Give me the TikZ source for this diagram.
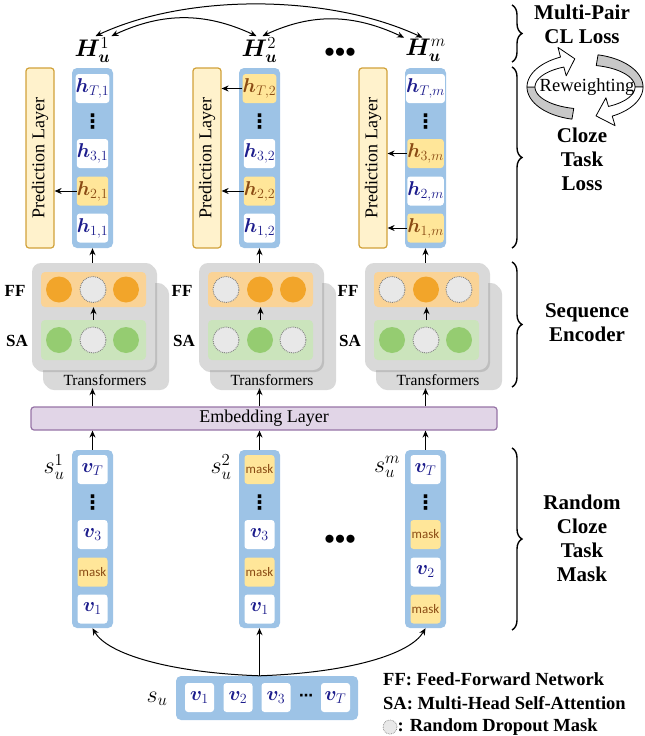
\RequirePackage{fix-cm}
\documentclass[tikz,border=0pt]{standalone}
\usepackage{bm}
\usepackage{fontspec}
\setmainfont{Liberation Serif}
\newfontfamily\masksf{Carlito}
\newfontfamily\dotsf{DejaVu Sans}
\usetikzlibrary{arrows.meta,shadows,decorations.pathreplacing}
\definecolor{colblue}{HTML}{9DC3E6}
\definecolor{cellyellow}{HTML}{FFE699}
\definecolor{cellblue}{HTML}{1C1C8C}
\definecolor{cellbrown}{HTML}{8A4B14}
\definecolor{predfill}{HTML}{FFF2CC}
\definecolor{predline}{HTML}{D1A23A}
\definecolor{tfgray}{HTML}{D9D9D9}
\definecolor{ffbandc}{HTML}{FAD396}
\definecolor{ffdotc}{HTML}{F2A52A}
\definecolor{sabandc}{HTML}{CBE4BC}
\definecolor{sadotc}{HTML}{95CC71}
\definecolor{dropc}{HTML}{E8E8E8}
\definecolor{embfill}{HTML}{E1D5E7}
\definecolor{embline}{HTML}{9673A6}
\definecolor{ringgray}{HTML}{C8C8C8}
\begin{document}
\begin{tikzpicture}[x=1pt,y=1pt,
  arr/.style={-{Stealth[length=7pt,width=6pt]},line width=1pt},
  darr/.style={{Stealth[length=7pt,width=6pt]}-{Stealth[length=7pt,width=6pt]},line width=1pt},
  predbox/.style={draw=predline,fill=predfill,line width=1.2pt,rounded corners=3pt,minimum width=28,minimum height=180,inner sep=0,font=\fontsize{18}{18}\selectfont},
  colbox/.style={fill=colblue,rounded corners=5pt,minimum width=41,inner sep=0},
  hcell/.style={fill=white,text=cellblue,rounded corners=3pt,minimum width=30,minimum height=29,inner sep=0,font=\fontsize{20}{20}\selectfont},
  ycell/.style={hcell,fill=cellyellow,text=cellbrown},
  mcell/.style={ycell,font=\masksf\fontsize{13}{13}\selectfont},
  vdot/.style={inner sep=0,font=\dotsf\bfseries\fontsize{20}{20}\selectfont},
  hlab/.style={inner sep=1pt,font=\fontsize{24}{24}\selectfont},
  tfbox/.style={fill=tfgray,rounded corners=9pt,inner sep=0,drop shadow={opacity=0.3,shadow xshift=2pt,shadow yshift=-2pt}},
  ffband/.style={fill=ffbandc,rounded corners=4pt,minimum width=105,minimum height=35,inner sep=0},
  saband/.style={fill=sabandc,rounded corners=4pt,minimum width=105,minimum height=40,inner sep=0},
  ffdot/.style={circle,fill=ffdotc,minimum size=26,inner sep=0},
  sadot/.style={circle,fill=sadotc,minimum size=26,inner sep=0},
  dropdot/.style={circle,fill=dropc,draw=gray,densely dotted,line width=0.9pt,minimum size=26,inner sep=0},
  sidelab/.style={font=\bfseries\fontsize{17}{17}\selectfont,inner sep=0},
  tflab/.style={font=\fontsize{15.5}{15.5}\selectfont,inner sep=0},
  embbox/.style={draw=embline,fill=embfill,line width=1.2pt,rounded corners=3pt,minimum width=466,minimum height=23,inner sep=0,font=\fontsize{18}{18}\selectfont},
  rightlab/.style={align=center,font=\bfseries\fontsize{21}{24}\selectfont},
  leglab/.style={anchor=west,inner sep=0,font=\bfseries\fontsize{18.5}{18.5}\selectfont},
  curly/.style={decorate,decoration={brace,amplitude=10pt},line width=1.4pt},
  ring/.style={draw=black,line width=0.8pt,line join=round}]
\useasboundingbox (0,0) rectangle (645,-736);
% output states with prediction layers
\node[predbox] (pred1) at (40,-158) {\rotatebox{90}{Prediction Layer}};
\node[predbox] (pred2) at (207,-158) {\rotatebox{90}{Prediction Layer}};
\node[predbox] (pred3) at (373,-158) {\rotatebox{90}{Prediction Layer}};
\node[colbox,minimum height=180] (hc1) at (92.5,-158) {};
\node[colbox,minimum height=180] (hc2) at (259.5,-158) {};
\node[colbox,minimum height=180] (hc3) at (425.5,-158) {};
\node[hcell] (hT1) at (92.5,-88.5) {$\bm{h}_{T,1}$}; \node[vdot] (hd1) at (92.5,-122) {⋮};
\node[hcell] (h31) at (92.5,-153.5) {$\bm{h}_{3,1}$}; \node[ycell] (h21) at (92.5,-191) {$\bm{h}_{2,1}$}; \node[hcell] (h11) at (92.5,-228) {$\bm{h}_{1,1}$};
\node[ycell] (hT2) at (259.5,-88.5) {$\bm{h}_{T,2}$}; \node[vdot] (hd2) at (259.5,-122) {⋮};
\node[hcell] (h32) at (259.5,-153.5) {$\bm{h}_{3,2}$}; \node[ycell] (h22) at (259.5,-191) {$\bm{h}_{2,2}$}; \node[hcell] (h12) at (259.5,-228) {$\bm{h}_{1,2}$};
\node[hcell] (hT3) at (425.5,-88.5) {$\bm{h}_{T,m}$}; \node[vdot] (hd3) at (425.5,-122) {⋮};
\node[ycell] (h33) at (425.5,-153.5) {$\bm{h}_{3,m}$}; \node[hcell] (h23) at (425.5,-191) {$\bm{h}_{2,m}$}; \node[ycell] (h13) at (425.5,-228) {$\bm{h}_{1,m}$};
\draw[arr] (h21.west) -- (h21.west -| pred1.east);
\draw[arr] (hT2.west) -- (hT2.west -| pred2.east); \draw[arr] (h22.west) -- (h22.west -| pred2.east);
\draw[arr] (h33.west) -- (h33.west -| pred3.east); \draw[arr] (h13.west) -- (h13.west -| pred3.east);
\node[hlab] (H1) at (92.5,-50) {$\bm{H}_{\bm{u}}^{1}$};
\node[hlab] (H2) at (259.5,-50) {$\bm{H}_{\bm{u}}^{2}$};
\node[hlab] (Hm) at (425.5,-50) {$\bm{H}_{\bm{u}}^{m}$};
\node[hlab,font=\fontsize{21}{21}\selectfont] (hdots) at (340,-53) {${\bullet}{\bullet}{\bullet}$};
\draw[darr] ([xshift=3pt]H1.north) to[out=25,in=155,looseness=0.8] ([xshift=-3pt]Hm.north);
\draw[darr] (H1.north east) to[out=25,in=155] ([xshift=-3pt]H2.north);
\draw[darr] ([xshift=3pt]H2.north) to[out=25,in=155] (Hm.north west);
% transformers
\node[tfbox,minimum width=124,minimum height=105] (tb1) at (105,-335.5) {};
\node[tfbox,minimum width=124,minimum height=105] (tb2) at (272,-335.5) {};
\node[tfbox,minimum width=124,minimum height=105] (tb3) at (438,-335.5) {};
\node[tfbox,minimum width=123,minimum height=107] (tf1) at (93.5,-316.5) {};
\node[tfbox,minimum width=123,minimum height=107] (tf2) at (260.5,-316.5) {};
\node[tfbox,minimum width=123,minimum height=107] (tf3) at (426.5,-316.5) {};
\node[tflab] (tl1) at (105,-380) {Transformers}; \node[tflab] (tl2) at (272,-380) {Transformers}; \node[tflab] (tl3) at (438,-380) {Transformers};
\node[ffband] (ff1) at (93.5,-289.5) {}; \node[saband] (sa1) at (93.5,-340) {};
\node[ffband] (ff2) at (260.5,-289.5) {}; \node[saband] (sa2) at (260.5,-340) {};
\node[ffband] (ff3) at (426.5,-289.5) {}; \node[saband] (sa3) at (426.5,-340) {};
\node[ffdot] (f11) at (59,-289.5) {}; \node[dropdot] (f12) at (93,-289.5) {}; \node[ffdot] (f13) at (126,-289.5) {};
\node[sadot] (a11) at (59,-340) {}; \node[dropdot] (a12) at (93,-340) {}; \node[sadot] (a13) at (126,-340) {};
\node[dropdot] (f21) at (226,-289.5) {}; \node[ffdot] (f22) at (260,-289.5) {}; \node[ffdot] (f23) at (293,-289.5) {};
\node[dropdot] (a21) at (226,-340) {}; \node[sadot] (a22) at (260,-340) {}; \node[dropdot] (a23) at (293,-340) {};
\node[dropdot] (f31) at (392,-289.5) {}; \node[ffdot] (f32) at (426,-289.5) {}; \node[dropdot] (f33) at (459,-289.5) {};
\node[sadot] (a31) at (392,-340) {}; \node[dropdot] (a32) at (426,-340) {}; \node[sadot] (a33) at (459,-340) {};
\node[sidelab] (ffl1) at (15,-291) {FF}; \node[sidelab] (sal1) at (17,-341) {SA};
\node[sidelab] (ffl2) at (182,-291) {FF}; \node[sidelab] (sal2) at (184,-341) {SA};
\node[sidelab] (ffl3) at (348,-291) {FF}; \node[sidelab] (sal3) at (350,-341) {SA};
\draw[arr] (sa1.north) -- (ff1.south); \draw[arr] (sa2.north) -- (ff2.south); \draw[arr] (sa3.north) -- (ff3.south);
\draw[arr] (tf1.north -| hc1.south) -- (hc1.south); \draw[arr] (tf2.north -| hc2.south) -- (hc2.south); \draw[arr] (tf3.north -| hc3.south) -- (hc3.south);
% embedding and input sequences
\node[embbox] (emb) at (264,-418.5) {Embedding Layer};
\draw[arr] (emb.north -| hc1.south) -- (tb1.south -| hc1.south);
\draw[arr] (emb.north -| hc2.south) -- (tb2.south -| hc2.south);
\draw[arr] (emb.north -| hc3.south) -- (tb3.south -| hc3.south);
\node[colbox,minimum height=178] (sc1) at (92.5,-539) {};
\node[colbox,minimum height=178] (sc2) at (259.5,-539) {};
\node[colbox,minimum height=178] (sc3) at (425.5,-539) {};
\node[hcell] (vT1) at (92.5,-469.5) {$\bm{v}_T$}; \node[vdot] (sd1) at (92.5,-503) {⋮};
\node[hcell] (v31) at (92.5,-534.5) {$\bm{v}_3$}; \node[mcell] (m21) at (92.5,-572) {mask}; \node[hcell] (v11) at (92.5,-609) {$\bm{v}_1$};
\node[mcell] (mT2) at (259.5,-469.5) {mask}; \node[vdot] (sd2) at (259.5,-503) {⋮};
\node[hcell] (v32) at (259.5,-534.5) {$\bm{v}_3$}; \node[mcell] (m22) at (259.5,-572) {mask}; \node[hcell] (v12) at (259.5,-609) {$\bm{v}_1$};
\node[hcell] (vT3) at (425.5,-469.5) {$\bm{v}_T$}; \node[vdot] (sd3) at (425.5,-503) {⋮};
\node[mcell] (m33) at (425.5,-534.5) {mask}; \node[hcell] (v23) at (425.5,-572) {$\bm{v}_2$}; \node[mcell] (m13) at (425.5,-609) {mask};
\node[hlab] (s1) at (54,-467) {$s_u^1$}; \node[hlab] (s2) at (221,-467) {$s_u^2$}; \node[hlab] (sm) at (387,-467) {$s_u^m$};
\node[hlab,font=\fontsize{21}{21}\selectfont] (sdots) at (340,-540) {${\bullet}{\bullet}{\bullet}$};
\draw[arr] (sc1.north) -- (emb.south -| sc1.north); \draw[arr] (sc2.north) -- (emb.south -| sc2.north); \draw[arr] (sc3.north) -- (emb.south -| sc3.north);
% original sequence
\node[colbox,minimum width=182,minimum height=44] (su) at (267,-698) {};
\node[hcell,minimum width=29] (r1) at (199.5,-697.5) {$\bm{v}_1$}; \node[hcell,minimum width=29] (r2) at (238,-697.5) {$\bm{v}_2$};
\node[hcell,minimum width=29] (r3) at (276,-697.5) {$\bm{v}_3$}; \node[hcell,minimum width=29] (rT) at (335.5,-697.5) {$\bm{v}_T$};
\node[vdot,font=\dotsf\bfseries\fontsize{14}{14}\selectfont] (rd) at (306,-697.5) {⋯};
\node[hlab] (sl) at (157,-699) {$s_u$};
\coordinate (fork) at (su.north -| sc2.south);
\draw[arr] (fork) -- (sc2.south);
\draw[arr] (fork) to[out=178,in=-60,out distance=90,in distance=30] (sc1.south);
\draw[arr] (fork) to[out=2,in=-120,out distance=90,in distance=30] (sc3.south);
% braces and right labels
\draw[curly] (512,-5) -- (512,-62); \draw[curly] (512,-67) -- (512,-248);
\draw[curly] (512,-262) -- (512,-387); \draw[curly] (512,-448) -- (512,-630);
\node[rightlab] (cl) at (582,-24) {Multi-Pair\\CL Loss};
\node[rightlab] (cz) at (582,-159) {Cloze\\Task\\Loss};
\node[rightlab] (se) at (587,-323) {Sequence\\Encoder};
\node[rightlab] (rm) at (582,-538) {Random\\Cloze\\Task\\Mask};
% reweighting ring
\filldraw[ring,fill=ringgray] plot[domain=257:180,samples=25] ({585+58*cos(\x)},{-87+33*sin(\x)}) -- plot[domain=180:257,samples=25] ({585+50*cos(\x)},{-87+22*sin(\x)}) -- cycle;
\filldraw[ring,fill=white] plot[domain=180:115,samples=25] ({585+58*cos(\x)},{-87+33*sin(\x)}) -- (558,-47.4) -- (574.8,-58.8) -- (566.2,-75.8) -- plot[domain=115:180,samples=25] ({585+50*cos(\x)},{-87+22*sin(\x)}) -- cycle;
\filldraw[ring,fill=ringgray] plot[domain=77:0,samples=25] ({585+58*cos(\x)},{-87+33*sin(\x)}) -- plot[domain=0:77,samples=25] ({585+50*cos(\x)},{-87+22*sin(\x)}) -- cycle;
\filldraw[ring,fill=white] plot[domain=0:-62,samples=25] ({585+58*cos(\x)},{-87+33*sin(\x)}) -- (615.1,-125.7) -- (596,-115.9) -- (605.9,-97.8) -- plot[domain=-62:0,samples=25] ({585+50*cos(\x)},{-87+22*sin(\x)}) -- cycle;
\node[font=\fontsize{18.5}{18.5}\selectfont] (rw) at (587,-87) {Reweighting};
% legend
\node[leglab] (lg1) at (383,-679) {FF: Feed-Forward Network};
\node[leglab] (lg2) at (383,-703) {SA: Multi-Head Self-Attention};
\node[dropdot,minimum size=14,line width=0.7pt] (lgd) at (390,-727) {};
\node[leglab] (lg3) at (lgd.east) {: Random Dropout Mask};
\end{tikzpicture}
\end{document}
